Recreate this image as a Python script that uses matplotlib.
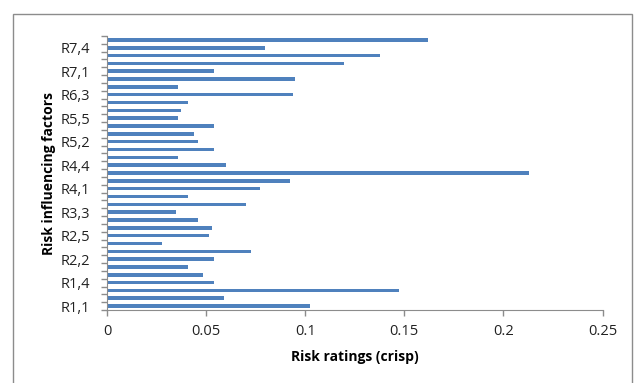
import matplotlib.pyplot as plt
from matplotlib.patches import Rectangle
import numpy as np

# 7 groups x 5 factors, bottom to top
factors = ['R%d,%d' % (g, k) for g in range(1, 8) for k in range(1, 6)]
ratings = [0.1025, 0.0588, 0.1471, 0.0541, 0.0486,
           0.0407, 0.0541, 0.0726, 0.0277, 0.0515,
           0.0529, 0.0460, 0.0348, 0.0702, 0.0407,
           0.0773, 0.0924, 0.2127, 0.0601, 0.0357,
           0.0541, 0.0461, 0.0440, 0.0541, 0.0357,
           0.0373, 0.0411, 0.0940, 0.0357, 0.0949,
           0.0541, 0.1194, 0.1379, 0.0799, 0.1621]
xticks = [0, 0.05, 0.1, 0.15, 0.2, 0.25]

plt.rcParams['font.family'] = ['Open Sans', 'DejaVu Sans']
grey = '#8c8c8c'

fig = plt.figure(figsize=(6.37, 3.83), dpi=100)
ax = fig.add_axes([0.168, 0.1906, 0.778, 0.7154])

y = np.arange(len(factors))
ax.barh(y, ratings, height=0.45, color='#4f81bd')

ax.set_xlim(0, 0.25)
ax.set_ylim(-0.5, len(factors) - 0.5)
ax.set_xticks(xticks)
ax.set_xticklabels(['0', '0.05', '0.1', '0.15', '0.2', '0.25'], fontsize=10.5, color='#222222')
ax.set_yticks(y[::3])
ax.set_yticklabels([factors[i] for i in y[::3]], fontsize=10.5, color='#222222')
ax.set_yticks(np.arange(len(factors) + 1) - 0.5, minor=True)
ax.tick_params(axis='y', which='major', length=0, pad=12)
ax.tick_params(axis='y', which='minor', length=4, color=grey, width=1)
ax.tick_params(axis='x', length=4, color=grey, width=1, pad=6)

for s in ['top', 'right']:
    ax.spines[s].set_visible(False)
for s in ['left', 'bottom']:
    ax.spines[s].set_color(grey)

ax.set_xlabel('Risk ratings (crisp)', fontsize=10, fontweight='bold', labelpad=8)
ax.set_ylabel('Risk influencing factors', fontsize=10, fontweight='bold', labelpad=3)

# chart area border
fig.patches.append(Rectangle((13 / 637, -0.05), 619 / 637, 1.05 - 14 / 383,
                             transform=fig.transFigure, fill=False,
                             edgecolor=grey, linewidth=1))

fig.savefig('out.png', dpi=100)
